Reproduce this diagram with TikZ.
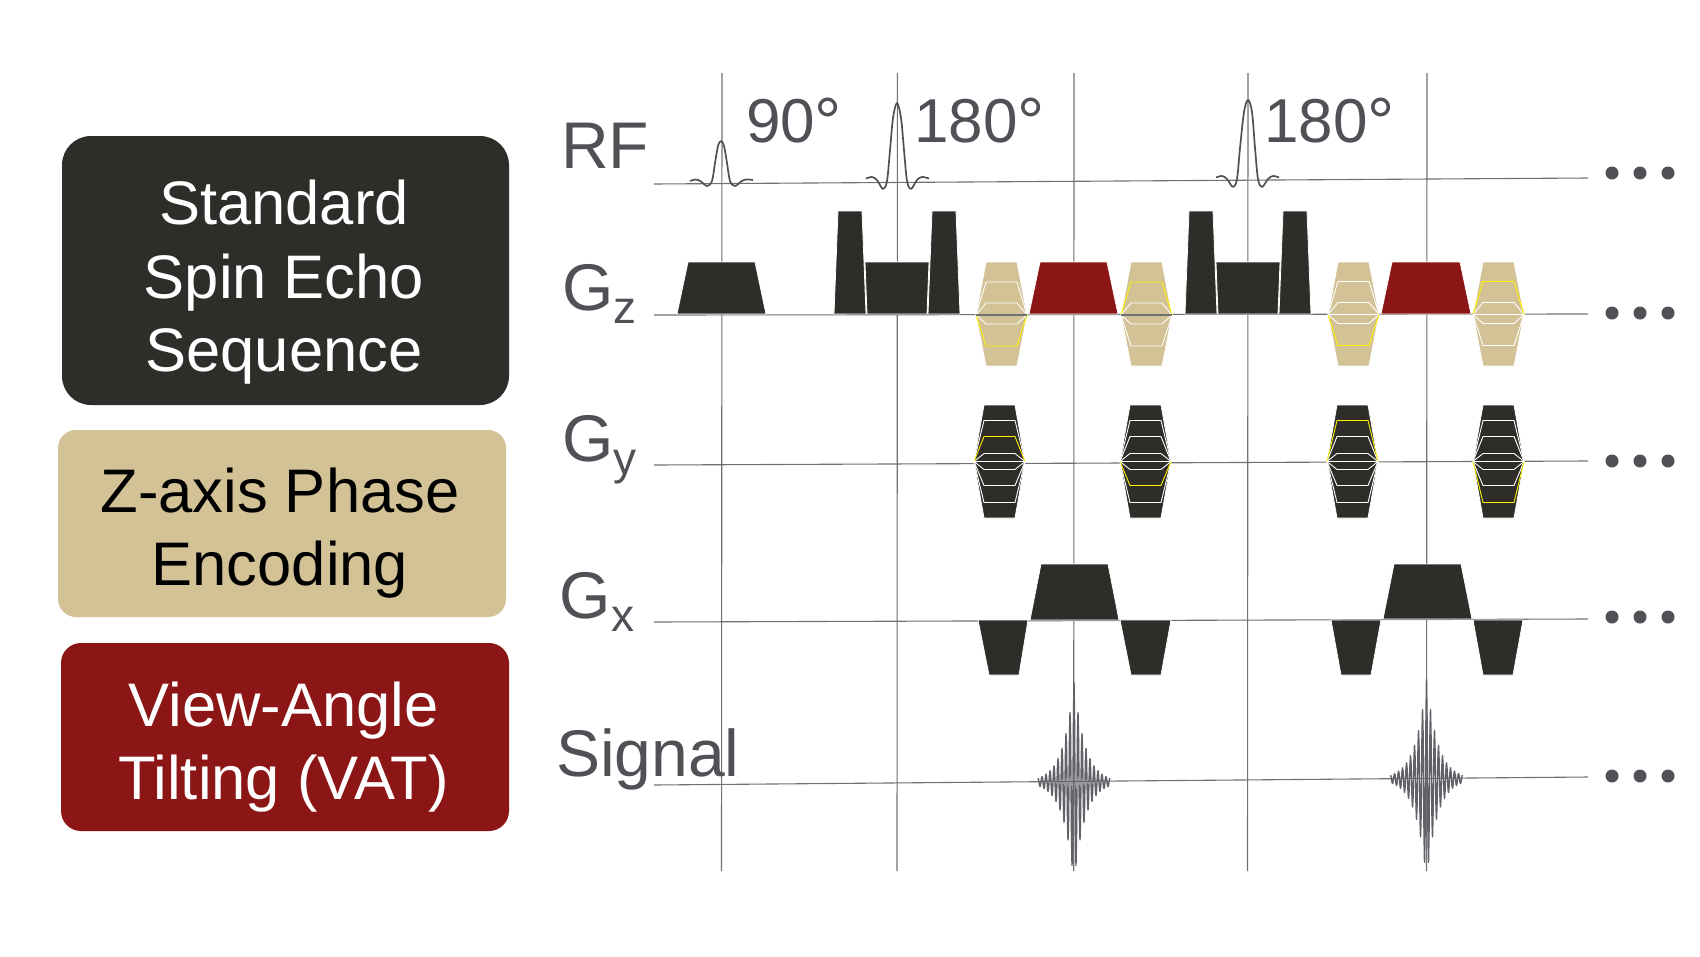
\documentclass[tikz,border=0pt]{standalone}
\usepackage{fontspec}
\usepackage{graphicx}
\setmainfont{Liberation Sans}
\definecolor{cdark}{HTML}{2E2D29}
\definecolor{ctan}{HTML}{D2C295}
\definecolor{cred}{HTML}{8C1515}
\definecolor{ctext}{HTML}{505156}
\definecolor{cline}{HTML}{707174}
\definecolor{cyel}{HTML}{FFF200}
\newcommand{\degring}{\kern-0.5pt\raisebox{-3pt}{\fontsize{68}{68}\selectfont °}}
\tikzset{
  legendbox/.style={inner sep=0pt},
  legendtext/.style={inner sep=0pt,align=center,font=\fontsize{61.5}{73.5}\selectfont},
  axlabel/.style={anchor=base west,inner sep=0pt,text=ctext,font=\fontsize{66}{66}\selectfont},
  anglelabel/.style={anchor=base west,inner sep=0pt,text=ctext,font=\fontsize{62}{62}\selectfont},
  axline/.style={draw=cline,line width=1.1pt},
  pulse/.style={draw=ctext,line width=1.7pt,line join=round},
  echo/.style={draw=ctext!90,line width=1.4pt,line join=round},
  shapeline/.style={draw=white,line width=0.8pt,line join=miter},
  level/.style={draw=white,line width=0.9pt},
  hotlevel/.style={draw=cyel,line width=0.9pt},
}
% #1 fill, #2 x bottom left, #3 x top left, #4 x top right, #5 x bottom right, #6 y top, #7 y bottom
\newcommand{\ptrap}[7]{\fill[#1,shapeline,draw=white] (#2,#7) -- (#3,#6) -- (#4,#6) -- (#5,#7) -- cycle;}
% #1 fill, #2 left x, #3 centre y, #4 up, #5 down, #6 level list, #7 yellow signed level, #8 extra centre-line style
\newcommand{\phex}[8]{%
  \fill[#1,shapeline] (#2,#3) -- (#2+10,#3-#4) -- (#2+41,#3-#4) -- (#2+51,#3) -- (#2+41,#3+#5) -- (#2+10,#3+#5) -- cycle;
  \foreach \lv in {#6}{\draw[level] (#2,#3) -- (#2+10,#3+\lv) -- (#2+41,#3+\lv) -- (#2+51,#3);}
  \draw[hotlevel] (#2,#3) -- (#2+10,#3+#7) -- (#2+41,#3+#7) -- (#2+51,#3);
  \draw[#8] (#2,#3) -- (#2+51,#3);
}
\begin{document}
\begin{tikzpicture}[x=1pt,y=-1pt]
\useasboundingbox (0,0) rectangle (1700,956);
\fill[white] (0,0) rectangle (1700,956);

% legend
\node[legendbox,fill=cdark,rounded corners=29pt,minimum width=447pt,minimum height=269pt] (stdbox) at (285.5,270.5) {};
\node[legendtext,text=white] (stdtext) at (284,282.5) {Standard\\Spin Echo\\Sequence};
\node[legendbox,fill=ctan,rounded corners=18pt,minimum width=448pt,minimum height=187pt] (zbox) at (282,523.5) {};
\node[legendtext,text=black] (ztext) at (280,533) {Z-axis Phase\\Encoding};
\node[legendbox,fill=cred,rounded corners=20pt,minimum width=448pt,minimum height=188pt] (vatbox) at (285,737) {};
\node[legendtext,text=white] (vattext) at (283.5,747) {View-Angle\\Tilting (VAT)};

% time markers and axes
\foreach \nm/\xa/\xb in {a/722/721.5,b/897.4/897,c/1074/1073.7,d/1248/1247.5,e/1427/1426.5}{
  \coordinate (t\nm top) at (\xa,73);
  \coordinate (t\nm bot) at (\xb,871);
  \draw[axline] (t\nm top) -- (t\nm bot);
}
\foreach \nm/\ya/\yb in {rf/184/178,gz/315/314,gy/465/461,gx/622/619,sg/785/777}{
  \coordinate (\nm L) at (654,\ya);
  \coordinate (\nm R) at (1588,\yb);
  \draw[axline] (\nm L) -- (\nm R);
}

% labels
\node[axlabel] (lrf) at (561,168) {RF};
\node[axlabel] (lgz) at (562,310) {G\raisebox{-13pt}{\fontsize{46}{46}\selectfont z}};
\node[axlabel] (lgy) at (562,461) {G\raisebox{-13pt}{\fontsize{46}{46}\selectfont y}};
\node[axlabel] (lgx) at (559.5,618) {G\raisebox{-13pt}{\fontsize{46}{46}\selectfont x}};
\node[axlabel] (lsg) at (556,776) {Signal};
\node[anglelabel] (a90) at (746,142) {90\degring};
\node[anglelabel] (a180a) at (914,142) {180\degring};
\node[anglelabel] (a180b) at (1264,142) {180\degring};

% RF pulses
\draw[pulse] plot[smooth,tension=.55] coordinates {(690,181) (696,179.5) (701,181.5) (707,186) (712,181) (715,163) (718,146) (721,141) (724,146) (727,163) (730,181) (735,186) (741,181.5) (746,179.5) (753,180)};
\draw[pulse] plot[smooth,tension=.55] coordinates {(866,178.5) (872,177) (877,180) (883,189) (887,181) (890,150) (893,118) (897,103) (901,118) (904,150) (907,181) (911,189) (917,180) (922,177) (929,178.5)};
\draw[pulse] plot[smooth,tension=.55] coordinates {(1216,177.5) (1222,176) (1227,179) (1233,187) (1237,179) (1240,148) (1244,112) (1248,100) (1252,112) (1255,148) (1258,179) (1262,187) (1268,179) (1273,176) (1279,177.5)};

% Gz standard lobes
\ptrap{cdark}{677}{688}{755}{766}{262}{314}
\ptrap{cdark}{834}{838}{862}{866}{211}{314}
\ptrap{cdark}{867}{865}{929}{927}{262}{314}
\ptrap{cdark}{928}{932}{956}{960}{211}{314}
\ptrap{cdark}{1185}{1189}{1213}{1217}{211}{314}
\ptrap{cdark}{1218}{1216}{1280}{1278}{262}{314}
\ptrap{cdark}{1279}{1283}{1307}{1311}{211}{314}

% Gz VAT
\ptrap{cred}{1029}{1040}{1107}{1118}{262}{314}
\ptrap{cred}{1381}{1392}{1460}{1471}{262}{314}

% Gz phase encoding
\phex{ctan}{976}{315}{53}{51}{-33,-12,9}{31}{axline}
\phex{ctan}{1121}{315}{53}{51}{-12,9,31}{-33}{axline}
\phex{ctan}{1328}{314.5}{52.5}{51.5}{-33,-12,9}{31}{level}
\phex{ctan}{1473}{314.5}{52.5}{51.5}{-12,9,31}{-33}{level}

% Gy phase encoding
\phex{cdark}{974}{461.5}{56.5}{56.5}{-41,-8,8,24,41}{-25}{level}
\phex{cdark}{1120}{461.5}{56.5}{56.5}{-41,-25,-8,8,41}{24}{level}
\phex{cdark}{1327}{461.5}{56.5}{56.5}{-25,-8,8,24,41}{-41}{level}
\phex{cdark}{1473}{461.5}{56.5}{56.5}{-41,-25,-8,8,24}{41}{level}

% Gx
\ptrap{cdark}{1030}{1041}{1108}{1119}{564}{620}
\ptrap{cdark}{1383}{1394}{1461}{1472}{564}{619}
\ptrap{cdark}{978}{989}{1019}{1028}{675}{620}
\ptrap{cdark}{1120}{1131}{1161}{1171}{675}{620}
\ptrap{cdark}{1331}{1341}{1371}{1381}{675}{620}
\ptrap{cdark}{1473}{1483}{1513}{1523}{675}{620}

% signal echoes
\draw[echo] plot[domain=-36:36,samples=145] ({1074+\x},{782-100*exp(-abs(\x)/11)*cos(90*\x)});
\draw[echo] plot[domain=-36:36,samples=145] ({1426.5+\x},{779-100*exp(-abs(\x)/11)*cos(90*\x)});

% continuation dots
\foreach \yy in {173,313,461,617,776}{
  \foreach \xx in {1612,1640,1668}{
    \fill[ctext] (\xx,\yy) circle[radius=6.5];
  }
}
\end{tikzpicture}
\end{document}
